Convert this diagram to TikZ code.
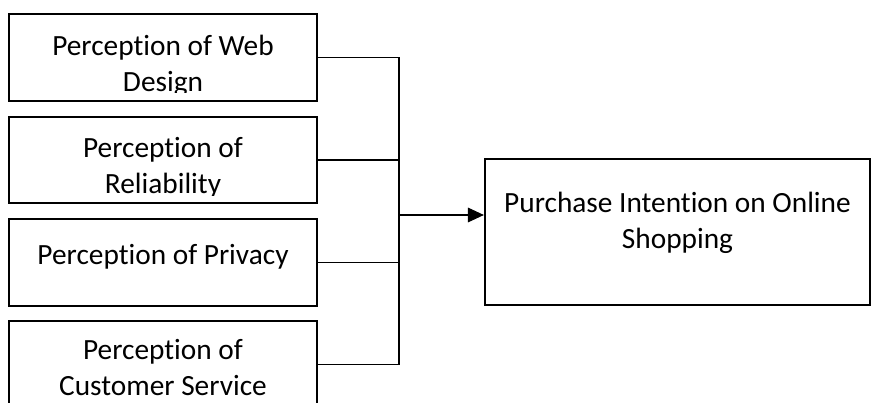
\documentclass[tikz,border=0pt]{standalone}
\usepackage{fontspec}
\setmainfont{Carlito}[Ligatures=NoCommon]
\usetikzlibrary{arrows.meta}
\begin{document}
\begin{tikzpicture}[x=0.75pt, y=-0.75pt,
  factor/.style n args={2}{draw, line width=1.4pt, minimum width=231pt, minimum height=65pt, inner sep=0pt,
    path picture={\clip (path picture bounding box.north west) rectangle ([yshift=6pt]path picture bounding box.south east);
      \node[draw=none, minimum width=0pt, minimum height=0pt, anchor=north, align=center,
      inner sep=0pt, font=\fontsize{22}{27}\selectfont]
      at ([yshift=-#1]path picture bounding box.north) {#2};}},
  link/.style={line width=0.8pt}]
\clip (0,0) rectangle (872,403);
\node[factor={15pt}{Perception of Web\\Design}] (web) at (163,57.5) {};
\node[factor={15pt}{Perception of\\Reliability}] (rel) at (163,160) {};
\node[factor={18pt}{Perception of Privacy}] (priv) at (163,262.5) {};
\node[factor={13pt}{Perception of\\Customer Service}] (serv) at (163,364.5) {};
\node[factor={24.5pt}{Purchase Intention on Online\\Shopping}, minimum width=289pt, minimum height=109.5pt] (intent) at (677.5,232) {};
\coordinate (join) at (399,215);
\draw[link] (web.east) -| (join |- serv.east) -- (serv.east);
\draw[link] (rel.east) -- (rel.east -| join);
\draw[link] (priv.east) -- (priv.east -| join);
\draw[link, -{Triangle[length=12pt, width=11pt]}] (join) -- (join -| intent.west);
\end{tikzpicture}
\end{document}
